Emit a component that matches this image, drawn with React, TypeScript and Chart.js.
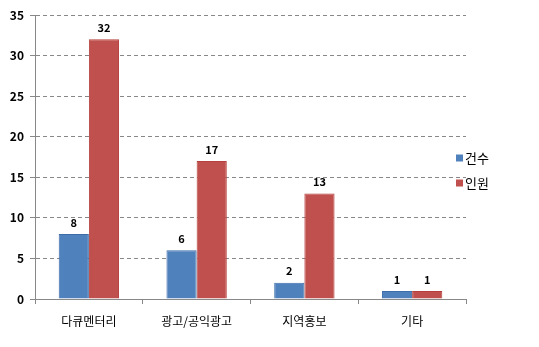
import React, { useEffect, useRef } from "react";
import { Chart, registerables } from "chart.js";

Chart.register(...registerables);

const categories = ["다큐멘터리", "광고/공익광고", "지역홍보", "기타"];
const seriesNames = ["건수", "인원"];
const countValues = [8, 6, 2, 1];
const peopleValues = [32, 17, 13, 1];
const yTicks = [0, 5, 10, 15, 20, 25, 30, 35];

const FONT = "'Noto Sans CJK KR', 'Noto Sans', sans-serif";
const COLORS = ["#4F81BD", "#C0504D"];
const BORDERS = ["#3C6DA8", "#B43F3C"];

const labelPlugin = {
  id: "barLabels",
  afterDatasetsDraw(chart: any) {
    const ctx = chart.ctx;
    ctx.save();
    ctx.font = `bold 11px ${FONT}`;
    ctx.fillStyle = "#000";
    ctx.textAlign = "center";
    ctx.textBaseline = "bottom";
    chart.data.datasets.forEach((ds: any, i: number) => {
      const meta = chart.getDatasetMeta(i);
      meta.data.forEach((bar: any, j: number) => {
        ctx.fillText(String(ds.data[j]), bar.x, bar.y - 6);
      });
    });
    ctx.restore();
  },
};

const legendPlugin = {
  id: "sideLegend",
  afterDraw(chart: any) {
    const ctx = chart.ctx;
    ctx.save();
    ctx.font = `13px ${FONT}`;
    ctx.textBaseline = "middle";
    ctx.textAlign = "left";
    const ys = [158, 183];
    seriesNames.forEach((name, i) => {
      ctx.fillStyle = COLORS[i];
      ctx.fillRect(456, ys[i] - 3.5, 7, 7);
      ctx.fillStyle = "#000";
      ctx.fillText(name, 465, ys[i]);
    });
    ctx.restore();
  },
};

export default function App() {
  const ref = useRef<HTMLCanvasElement>(null);
  useEffect(() => {
    document.body.style.margin = "0";
    const chart = new Chart(ref.current!, {
      type: "bar",
      data: {
        labels: categories,
        datasets: [
          {
            label: seriesNames[0],
            data: countValues,
            backgroundColor: COLORS[0],
            borderColor: BORDERS[0],
            borderWidth: 1,
            categoryPercentage: 0.56,
            barPercentage: 1,
          },
          {
            label: seriesNames[1],
            data: peopleValues,
            backgroundColor: COLORS[1],
            borderColor: BORDERS[1],
            borderWidth: 1,
            categoryPercentage: 0.56,
            barPercentage: 1,
          },
        ],
      },
      options: {
        animation: false,
        responsive: false,
        maintainAspectRatio: false,
        layout: { padding: { top: 15, right: 73, left: 0, bottom: 0 } },
        plugins: { legend: { display: false }, tooltip: { enabled: false } },
        scales: {
          x: {
            grid: {
              display: true,
              drawOnChartArea: false,
              drawTicks: true,
              tickLength: 5,
              color: "#888",
              offset: true,
            },
            border: { display: true, color: "#888", width: 1 },
            ticks: {
              color: "#000",
              font: { family: FONT, size: 12 },
              padding: 10,
            },
            afterFit(scale: any) {
              scale.height = 48;
            },
          },
          y: {
            min: 0,
            max: 35,
            afterBuildTicks(scale: any) {
              scale.ticks = yTicks.map((v) => ({ value: v }));
            },
            grid: {
              color: "#888",
              tickLength: 5,
              drawTicks: true,
            },
            border: { display: true, color: "#888", width: 1, dash: [4, 3] },
            ticks: {
              color: "#000",
              font: { family: FONT, size: 12, weight: "bold" },
              padding: 6,
            },
            afterFit(scale: any) {
              scale.width = 35;
            },
          },
        },
      },
      plugins: [labelPlugin, legendPlugin],
    });
    return () => chart.destroy();
  }, []);
  return <canvas ref={ref} width={539} height={347} style={{ display: "block" }} />;
}
